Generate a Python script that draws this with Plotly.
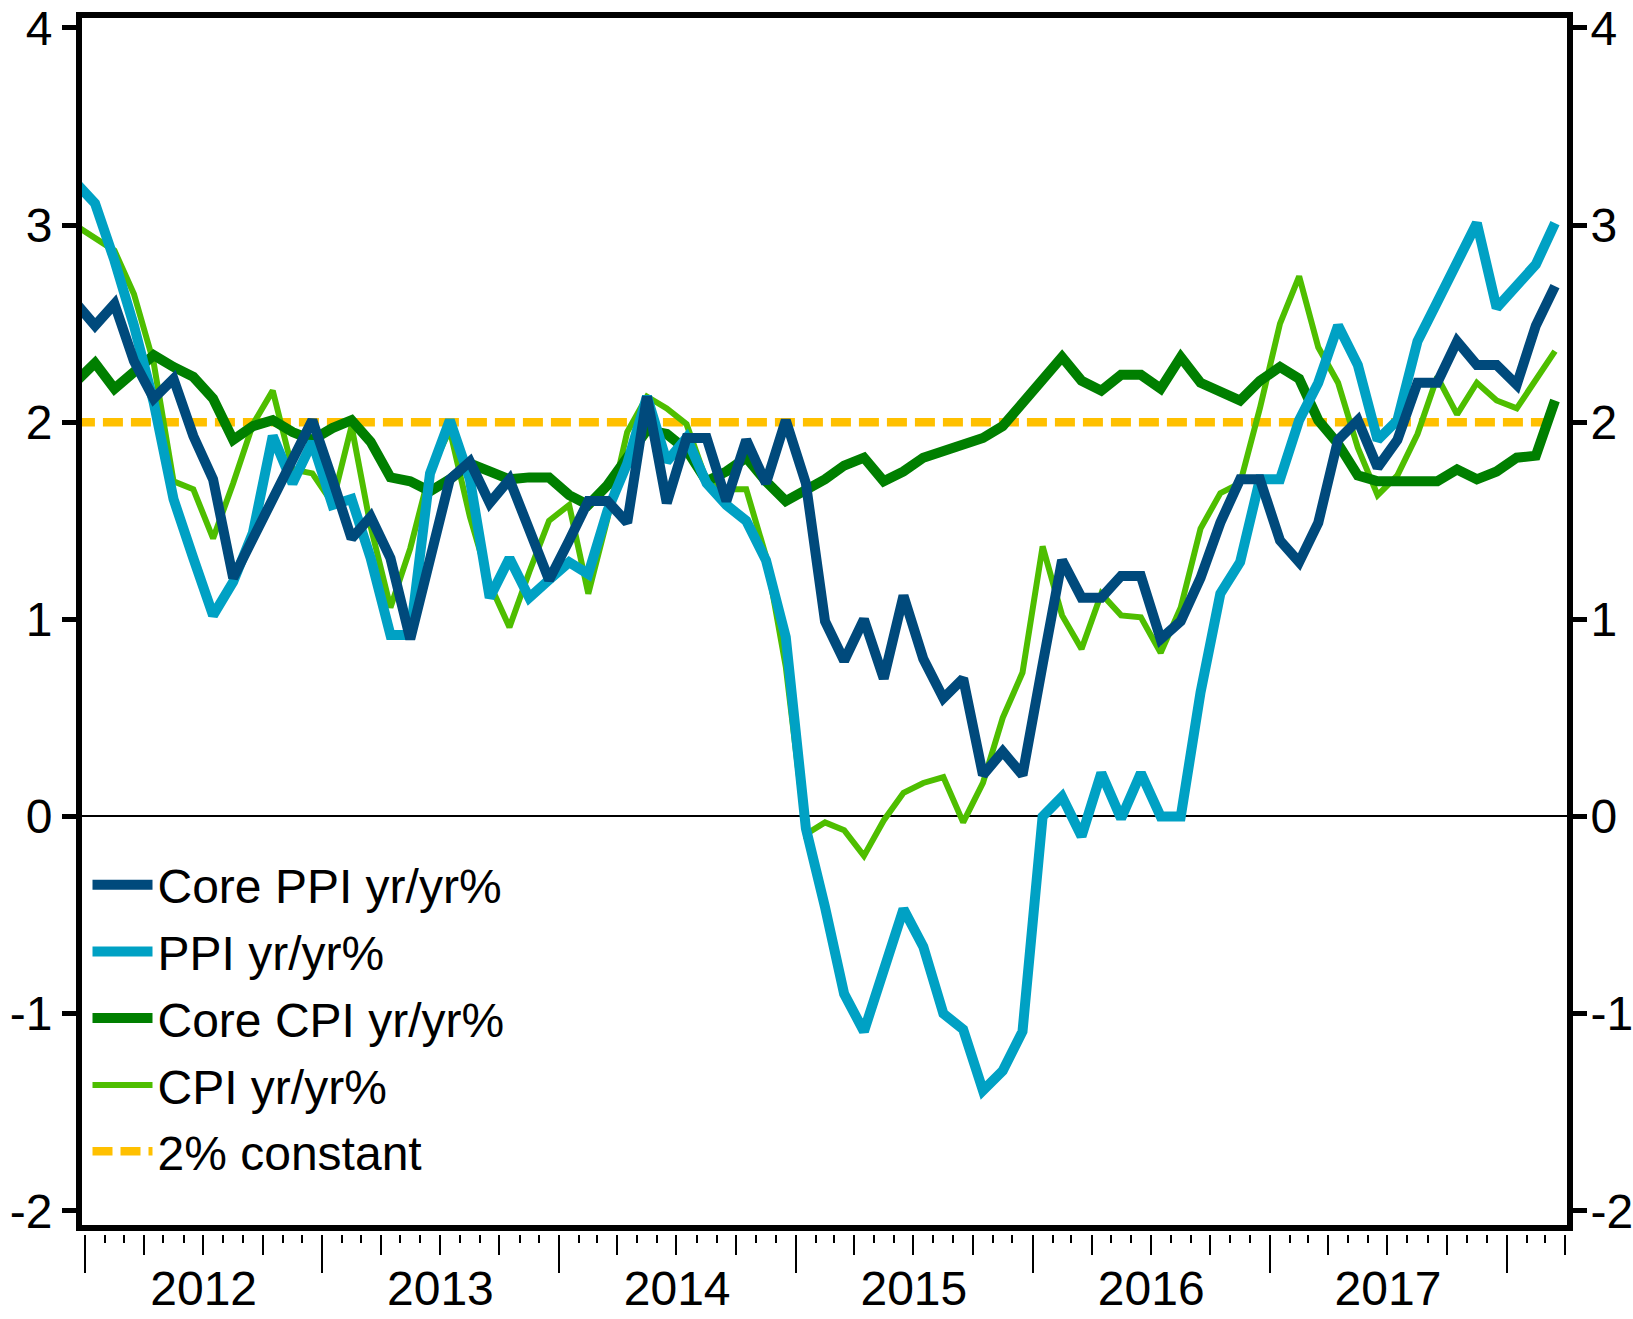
import pandas as pd
import plotly.graph_objects as go

# ---------------- data (monthly, Dec 2011 .. Mar 2018) ----------------
months = pd.date_range("2011-12-01", "2018-03-01", freq="MS")

core_ppi = [2.61,
            2.49, 2.60, 2.31, 2.12, 2.22, 1.93, 1.71, 1.21, 1.41, 1.61, 1.81, 2.01,
            1.71, 1.41, 1.52, 1.31, 0.90, 1.31, 1.71, 1.80, 1.59, 1.71, 1.45, 1.20,
            1.40, 1.60, 1.60, 1.49, 2.13, 1.59, 1.92, 1.92, 1.60, 1.91, 1.69, 2.01,
            1.69, 0.99, 0.79, 1.00, 0.70, 1.12, 0.80, 0.60, 0.70, 0.21, 0.33, 0.21,
            0.77, 1.30, 1.11, 1.11, 1.22, 1.22, 0.90, 0.99, 1.21, 1.49, 1.71, 1.71,
            1.40, 1.29, 1.49, 1.91, 2.01, 1.77, 1.91, 2.20, 2.20, 2.41, 2.29, 2.29,
            2.19, 2.49, 2.69]

ppi = [3.22,
       3.11, 2.82, 2.49, 2.10, 1.61, 1.31, 1.02, 1.19, 1.44, 1.93, 1.69, 1.90,
       1.58, 1.61, 1.31, 0.92, 0.92, 1.74, 2.01, 1.71, 1.11, 1.31, 1.11, 1.20,
       1.29, 1.23, 1.55, 1.79, 2.13, 1.80, 1.92, 1.69, 1.58, 1.50, 1.30, 0.91,
       -0.06, -0.46, -0.90, -1.09, -0.78, -0.47, -0.66, -1.00, -1.08, -1.39, -1.29, -1.09,
       0.00, 0.10, -0.10, 0.22, -0.01, 0.22, 0.00, 0.00, 0.63, 1.13, 1.29, 1.71,
       1.71, 2.01, 2.20, 2.49, 2.29, 1.91, 2.01, 2.41, 2.61, 2.82, 3.01, 2.58,
       2.69, 2.80, 3.01]

core_cpi = [2.20,
            2.30, 2.17, 2.25, 2.34, 2.28, 2.23, 2.12, 1.91, 1.98, 2.01, 1.95, 1.91,
            1.97, 2.01, 1.90, 1.72, 1.70, 1.65, 1.71, 1.79, 1.75, 1.71, 1.72, 1.72,
            1.63, 1.58, 1.68, 1.82, 1.96, 1.94, 1.86, 1.70, 1.75, 1.82, 1.70, 1.60,
            1.65, 1.71, 1.78, 1.82, 1.70, 1.75, 1.82, 1.85, 1.89, 1.92, 1.98, 2.10,
            2.22, 2.33, 2.21, 2.16, 2.24, 2.24, 2.17, 2.33, 2.20, 2.16, 2.11, 2.21,
            2.28, 2.22, 2.01, 1.89, 1.73, 1.70, 1.70, 1.70, 1.70, 1.76, 1.71, 1.75,
            1.82, 1.83, 2.11]

cpi = [3.00,
       2.93, 2.87, 2.65, 2.30, 1.70, 1.66, 1.41, 1.69, 1.99, 2.16, 1.76, 1.74,
       1.59, 1.98, 1.47, 1.06, 1.36, 1.75, 1.96, 1.52, 1.18, 0.96, 1.24, 1.50,
       1.58, 1.13, 1.51, 1.95, 2.13, 2.07, 1.99, 1.70, 1.66, 1.66, 1.32, 0.76,
       -0.09, -0.03, -0.07, -0.20, -0.02, 0.12, 0.17, 0.20, -0.03, 0.17, 0.50, 0.73,
       1.37, 1.02, 0.85, 1.13, 1.02, 1.01, 0.83, 1.06, 1.46, 1.64, 1.69, 2.07,
       2.50, 2.74, 2.38, 2.20, 1.87, 1.63, 1.73, 1.94, 2.23, 2.04, 2.20, 2.11,
       2.07, 2.21, 2.36]

constant_2pct = [2.0] * len(months)

year_label_dates = ["2012-07-02", "2013-07-02", "2014-07-02",
                    "2015-07-02", "2016-07-02", "2017-07-02"]
year_labels = ["2012", "2013", "2014", "2015", "2016", "2017"]

y_tick_vals = [-2, -1, 0, 1, 2, 3, 4]
y_tick_text = ["-2", "-1", "0", "1", "2", "3", "4"]

# ---------------- style ----------------
FONT = "Liberation Sans Narrow, Arial Narrow, Liberation Sans, Arial, sans-serif"
FS = 48
X_RANGE = ["2011-12-27 10:00", "2018-04-04"]
Y_RANGE = [-2.072, 4.050]
W, H = 1633, 1319
PLOT_L, PLOT_R, PLOT_T, PLOT_B = 82, 1567, 18, 1225

series = [
    # name, values, color, width, dash, legend id, row-centre (px from top)
    ("2% constant", constant_2pct, "#FFC000", 8.5, "20px,8px", "legend5", 1151.5),
    ("CPI yr/yr%", cpi, "#4EBE00", 6, "solid", "legend4", 1085.3),
    ("Core CPI yr/yr%", core_cpi, "#007F00", 10, "solid", "legend3", 1018.3),
    ("PPI yr/yr%", ppi, "#00A1C4", 10, "solid", "legend2", 951.7),
    ("Core PPI yr/yr%", core_ppi, "#004A7C", 10, "solid", "legend", 885.0),
]

fig = go.Figure()
for name, vals, color, width, dash, leg, _ in series:
    fig.add_trace(go.Scatter(
        x=months, y=vals, name=name, mode="lines",
        xperiod="M1", xperiodalignment="middle",
        line=dict(color=color, width=width, dash=dash),
        legend=leg, hoverinfo="skip"))

# invisible helper traces so the extra (tick / label) axes get drawn
for ax in ["x2", "x3", "x4", "x5"]:
    fig.add_trace(go.Scatter(x=[months[0], months[-1]], y=[None, None],
                             xaxis=ax, yaxis="y", showlegend=False,
                             hoverinfo="skip", mode="lines"))
fig.add_trace(go.Scatter(x=[months[0], months[-1]], y=[None, None],
                         xaxis="x", yaxis="y2", showlegend=False,
                         hoverinfo="skip", mode="lines"))

tickfont = dict(family=FONT, size=FS, color="black")

legend_common = dict(
    font=dict(family=FONT, size=FS, color="black"),
    bgcolor="rgba(0,0,0,0)", borderwidth=0,
    xref="paper", yref="paper",
    xanchor="left", yanchor="middle",
    itemwidth=60, itemclick=False, itemdoubleclick=False,
)
legend_layout = {}
for name, vals, color, width, dash, leg, yc in series:
    legend_layout[leg] = dict(
        legend_common,
        x=(87.5 - PLOT_L) / (PLOT_R - PLOT_L),
        y=(PLOT_B - yc) / (PLOT_B - PLOT_T))


def tick_axis(dtick, ticklen):
    return dict(overlaying="x", anchor="y", side="bottom", type="date",
                range=X_RANGE, tickmode="linear", tick0="2012-01-01",
                dtick=dtick, ticks="outside", ticklen=ticklen, tickwidth=2,
                tickcolor="black", showticklabels=False, showgrid=False,
                zeroline=False, showline=True, linecolor="rgba(0,0,0,0)",
                linewidth=10, fixedrange=True)


fig.update_layout(
    width=W, height=H,
    margin=dict(l=PLOT_L, r=W - PLOT_R, t=PLOT_T, b=H - PLOT_B, pad=0,
                autoexpand=False),
    paper_bgcolor="white", plot_bgcolor="white",
    font=dict(family=FONT, size=FS, color="black"),
    showlegend=True,
    xaxis=dict(type="date", range=X_RANGE, showline=True, linewidth=6,
               linecolor="black", mirror=True, ticks="", showticklabels=False,
               showgrid=False, zeroline=False, fixedrange=True),
    xaxis2=tick_axis("M1", 8),
    xaxis3=tick_axis("M3", 20),
    xaxis4=tick_axis("M12", 38),
    xaxis5=dict(overlaying="x", anchor="y", side="bottom", type="date",
                range=X_RANGE, tickmode="array", tickvals=year_label_dates,
                ticktext=year_labels, ticks="", showgrid=False, zeroline=False,
                showline=False, tickfont=tickfont, ticklabelstandoff=31,
                ticklabeloverflow="allow", fixedrange=True),
    yaxis=dict(range=Y_RANGE, tickmode="array", tickvals=y_tick_vals,
               ticktext=y_tick_text, ticks="outside", ticklen=14, tickwidth=5,
               tickcolor="black", showline=True, linewidth=6, linecolor="black",
               mirror=False, showgrid=False, zeroline=True, zerolinecolor="black",
               zerolinewidth=2, tickfont=tickfont, ticklabeloverflow="allow",
               fixedrange=True),
    yaxis2=dict(overlaying="y", side="right", anchor="x", range=Y_RANGE,
                tickmode="array", tickvals=y_tick_vals, ticktext=y_tick_text,
                ticks="outside", ticklen=14, tickwidth=5, tickcolor="black",
                showline=True, linewidth=6, linecolor="black", showgrid=False,
                zeroline=False, tickfont=tickfont, ticklabeloverflow="allow",
                ticklabelstandoff=-6, fixedrange=True),
    **legend_layout,
)

fig.write_html("out.html", config={"displayModeBar": False, "staticPlot": True},
               post_script="document.body.style.margin='0';document.body.style.overflow='hidden';")
